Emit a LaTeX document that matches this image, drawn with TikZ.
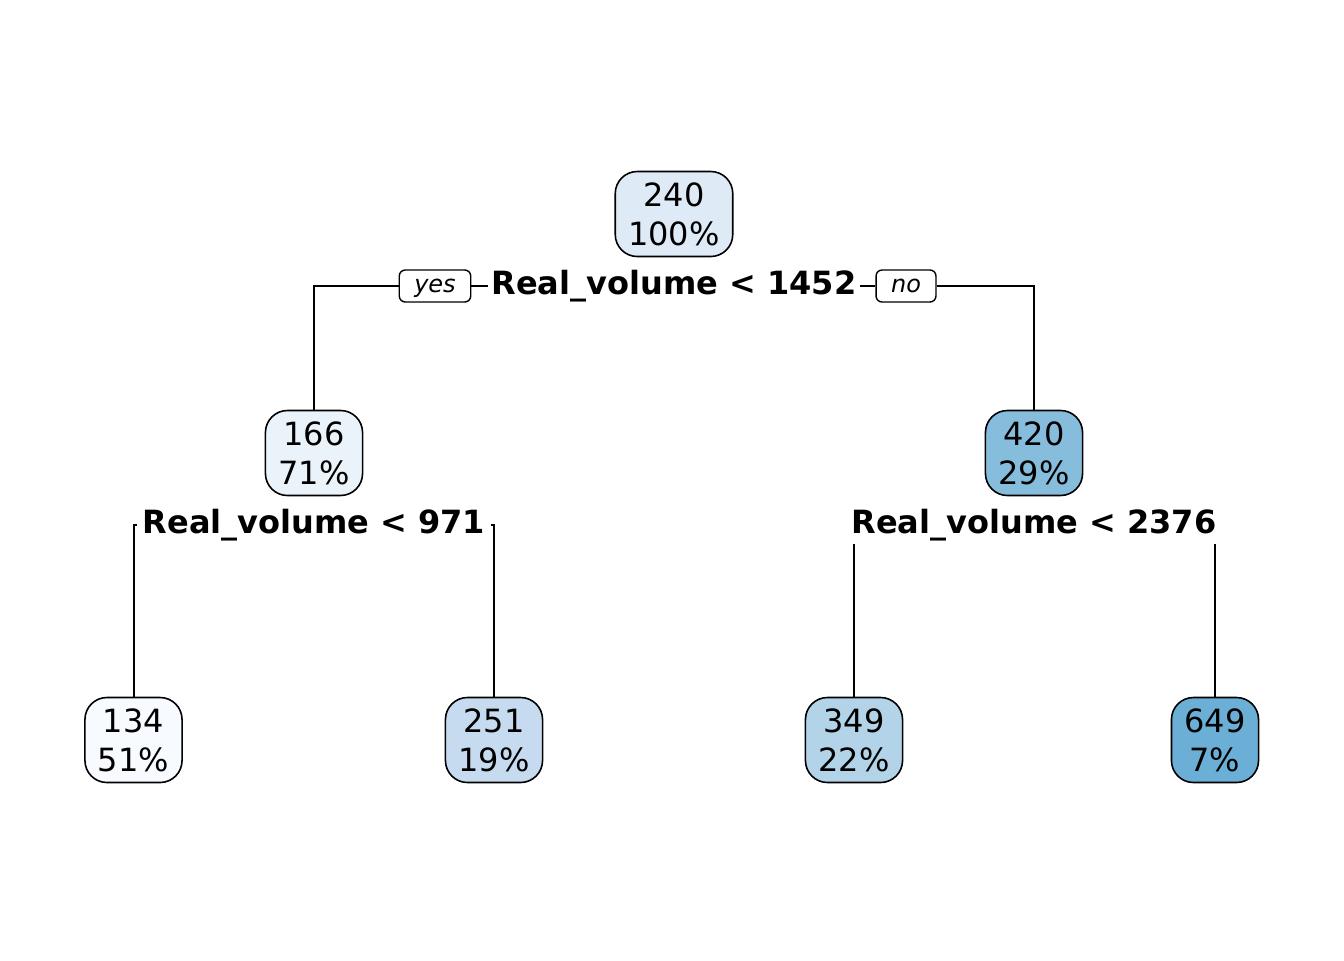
\documentclass[tikz,border=0pt]{standalone}
\usepackage{fontspec}
\setmainfont{DejaVu Sans}
\usepackage{tikz}
\usetikzlibrary{positioning}

\definecolor{cRoot}{HTML}{DEEBF7}
\definecolor{cA}{HTML}{EAF2FA}
\definecolor{cB}{HTML}{86BDDC}
\definecolor{cLa}{HTML}{F7FBFF}
\definecolor{cLb}{HTML}{C6DBEF}
\definecolor{cLc}{HTML}{B3D3E8}
\definecolor{cLd}{HTML}{6BAED6}

\begin{document}
\begin{tikzpicture}[x=0.5pt,y=-0.5pt,
        leaf/.style={draw=black,line width=0.8pt,rounded corners=11pt,align=center,
          inner xsep=6.5pt,minimum height=42.5pt,font=\fontsize{16}{19.5}\selectfont},
        split/.style={anchor=base,inner sep=1.5pt,font=\fontsize{16}{19.5}\selectfont\bfseries},
        tag/.style={draw=black,line width=0.7pt,fill=white,rounded corners=3pt,inner xsep=7.5pt,
          inner ysep=0pt,minimum height=16pt,text height=8.5pt,text depth=2pt,
          font=\fontsize{12}{14}\selectfont\itshape},
        edge/.style={draw=black,line width=1pt}]
        \useasboundingbox (0,0) rectangle (1344,960);
        % nodes of the tree
        \node[leaf,fill=cRoot] (root) at (674,214) {240\\100\%};
        \node[leaf,fill=cA] (left) at (314,453) {166\\71\%};
        \node[leaf,fill=cB] (right) at (1034,453) {420\\29\%};
        \node[leaf,fill=cLa] (leafa) at (133.5,740) {134\\51\%};
        \node[leaf,fill=cLb] (leafb) at (494,740) {251\\19\%};
        \node[leaf,fill=cLc] (leafc) at (854,740) {349\\22\%};
        \node[leaf,fill=cLd] (leafd) at (1215,740) {649\\7\%};
        % split labels
        \node[split] (splitroot) at (674,294) {Real\_volume < 1452};
        \node[split] (splitleft) at (314,533) {Real\_volume < 971};
        \node[split] (splitright) at (1034,533) {Real\_volume < 2376};
        \node[tag] (yes) at (435,286) {yes};
        \node[tag] (no) at (906,286) {no};
        % branches
        \draw[edge] (yes.west) -| (left.north);
        \draw[edge] (yes.east) -- ([yshift=4pt]splitroot.base west);
        \draw[edge] ([yshift=4pt]splitroot.base east) -- (no.west);
        \draw[edge] (no.east) -| (right.north);
        \draw[edge] ([yshift=4pt,xshift=-1pt]splitleft.base west) -| (leafa.north);
        \draw[edge] ([yshift=4pt,xshift=1pt]splitleft.base east) -| (leafb.north);
        \draw[edge] (leafc.north) -- (leafc.north |- splitright.south);
        \draw[edge] (leafd.north) -- (leafd.north |- splitright.south);
\end{tikzpicture}
\end{document}
